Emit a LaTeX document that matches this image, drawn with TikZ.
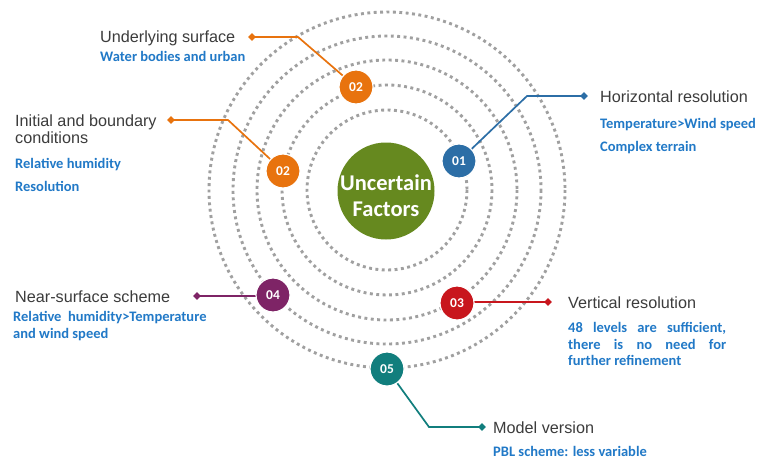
\documentclass[tikz,border=0pt]{standalone}
\usepackage{fontspec}
\setmainfont{Liberation Sans}
\newfontfamily\calfont{Carlito}
\usetikzlibrary{shapes.geometric}
\definecolor{corange}{HTML}{E8730E}
\definecolor{cblue}{HTML}{2C6EA6}
\definecolor{cred}{HTML}{C8161D}
\definecolor{cpurple}{HTML}{7E2466}
\definecolor{cteal}{HTML}{117E7D}
\definecolor{cgreen}{HTML}{66891F}
\definecolor{subblue}{HTML}{2179C7}
\definecolor{headgray}{HTML}{3C3C3C}
\definecolor{ringgray}{HTML}{A0A0A0}
\tikzset{
  ring/.style={draw=ringgray, line width=2.9pt, dash pattern=on 2.9pt off 3.5pt},
  num/.style={circle, minimum size=34pt, inner sep=0pt, draw=white, line width=1.2pt, text=white, font=\calfont\bfseries\fontsize{13.5}{13.5}\selectfont},
  dia/.style={diamond, minimum size=8pt, inner sep=0pt},
  head/.style={font=\fontsize{16.2}{18}\selectfont, text=headgray, inner sep=0pt, anchor=base west},
  sub/.style={font=\calfont\bfseries\fontsize{14.5}{16}\selectfont, text=subblue, inner sep=0pt, anchor=base west},
  conn/.style={line width=1.7pt},
}
\begin{document}
\begin{tikzpicture}[x=1pt,y=-1pt]
\useasboundingbox[fill=white] (0,0) rectangle (757,460);
% rings
\foreach \r in {80,105,130,154,178} \draw[ring] (387,190) circle (\r);
% center
\node[circle, fill=cgreen, minimum size=97pt, inner sep=0pt] (ctr) at (386,191) {};
\node[inner sep=0pt, text=white, font=\calfont\bfseries\fontsize{22.5}{24}\selectfont] (ctr1) at (386,183) {Uncertain};
\node[inner sep=0pt, text=white, font=\calfont\bfseries\fontsize{22.5}{24}\selectfont] (ctr2) at (386,209) {Factors};
% coordinates
\coordinate (b01) at (527,96);
\coordinate (b02a) at (298,37);
\coordinate (b02b) at (228,120);
\coordinate (b05) at (429,427);
% diamonds
\node[dia, fill=cblue] (d01) at (584,96) {};
\node[dia, fill=corange] (d02a) at (252,37) {};
\node[dia, fill=corange] (d02b) at (171,120) {};
\node[dia, fill=cpurple] (d04) at (197,296) {};
\node[dia, fill=cred] (d03) at (548,302) {};
\node[dia, fill=cteal] (d05) at (482,427) {};
% connectors
\draw[conn, cblue] (459,161) -- (b01) -- (d01.center);
\draw[conn, corange] (356,87) -- (b02a) -- (d02a.center);
\draw[conn, corange] (283,171) -- (b02b) -- (d02b.center);
\draw[conn, cpurple] (273,296) -- (d04.center);
\draw[conn, cred] (457,302) -- (d03.center);
\draw[conn, cteal] (387,369) -- (b05) -- (d05.center);
% numbered circles
\node[num, fill=cblue] (c01) at (459,161) {01};
\node[num, fill=corange] (c02a) at (356,87) {02};
\node[num, fill=corange] (c02b) at (283,171) {02};
\node[num, fill=cpurple] (c04) at (273,295) {04};
\node[num, fill=cred] (c03) at (457,303) {03};
\node[num, fill=cteal] (c05) at (387,369) {05};
% texts
\node[head] (t01) at (600,102) {Horizontal resolution};
\node[sub] (s01a) at (600,128) {Temperature>Wind speed};
\node[sub] (s01b) at (600,151) {Complex terrain};
\node[head] (t02a) at (100,43) {Underlying surface};
\node[sub] (s02a) at (100,62) {Water bodies and urban};
\node[head] (t02b1) at (15,126) {Initial and boundary};
\node[head] (t02b2) at (15,143) {conditions};
\node[sub] (s02b1) at (15,168) {Relative humidity};
\node[sub] (s02b2) at (15,191) {Resolution};
\node[head] (t04) at (15,302) {Near-surface scheme};
\node[sub] (s04a) at (13,321) {Relative\ \ humidity>Temperature};
\node[sub] (s04b) at (13,338) {and wind speed};
\node[head] (t03) at (568,308) {Vertical resolution};
\node[sub] (s03a) at (568,332) {\makebox[158pt][s]{48 levels are sufficient,}};
\node[sub] (s03b) at (568,349) {\makebox[158pt][s]{there is no need for}};
\node[sub] (s03c) at (568,365) {further refinement};
\node[head] (t05) at (493,433) {Model version};
\node[sub] (s05) at (493,456.5) {PBL scheme: less variable};
\end{tikzpicture}
\end{document}
